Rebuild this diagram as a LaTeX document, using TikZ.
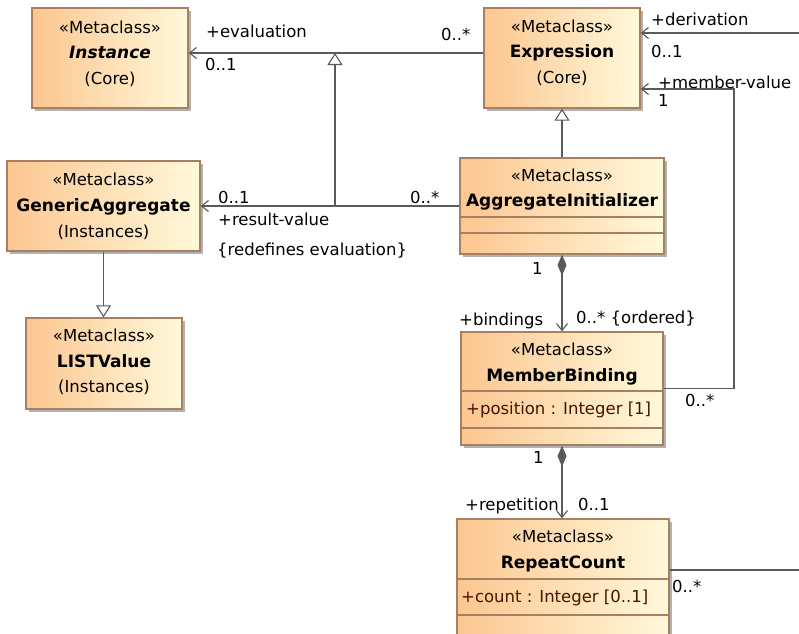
\documentclass[tikz,border=0pt]{standalone}
\usepackage{fontspec}
\setmainfont{DejaVu Sans}
\usetikzlibrary{arrows.meta,shadows}
\definecolor{clsL}{RGB}{252,198,144}
\definecolor{clsR}{RGB}{255,249,218}
\definecolor{clsB}{RGB}{166,128,96}
\definecolor{lnC}{RGB}{90,90,90}
\definecolor{attrC}{RGB}{70,20,0}
\newcommand\clsname[1]{{\fontsize{17}{20}\selectfont\bfseries #1}}
\begin{document}
\begin{tikzpicture}[x=1pt,y=-1pt,
  cls/.style={draw=clsB, line width=1.3pt, left color=clsL, right color=clsR, inner sep=0pt,
    drop shadow={shadow xshift=3pt, shadow yshift=-3pt, fill=black!30, opacity=1}},
  cmp/.style={draw=clsB, line width=1.3pt},
  txt/.style={inner sep=0pt, anchor=base, font=\fontsize{16.5}{20}\selectfont},
  lbl/.style={inner sep=0pt, anchor=base west, font=\fontsize{16.5}{20}\selectfont},
  lnk/.style={draw=lnC, line width=1.3pt},
  assoc/.style={lnk, -{Straight Barb[length=7pt,width=11pt,line width=1.1pt]}},
  genz/.style={lnk, -{Triangle[open,length=12pt,width=15pt,fill=white,line width=1.1pt]}},
  compo/.style={lnk, {Diamond[length=21pt,width=9pt,fill=lnC]}-{Straight Barb[length=7pt,width=11pt,line width=1.1pt]}}
]
\fill[white] (0,0) rectangle (799,633);
\useasboundingbox (0,0) rectangle (799,633);

% class boxes
\node[cls, minimum width=156pt, minimum height=100pt] (inst) at (110,58) {};
\node[cls, minimum width=156pt, minimum height=100pt] (expr) at (562,58) {};
\node[cls, minimum width=193pt, minimum height=90pt] (gen) at (103.5,206) {};
\node[cls, minimum width=204pt, minimum height=96pt] (agg) at (562,206) {};
\node[cls, minimum width=156pt, minimum height=91pt] (list) at (104,363.5) {};
\node[cls, minimum width=202pt, minimum height=113pt] (mb) at (562,388.5) {};
\node[cls, minimum width=212pt, minimum height=122pt] (rc) at (563,580) {};

% compartments
\draw[cmp] (agg.west |- 0,217) -- (agg.east |- 0,217);
\draw[cmp] (agg.west |- 0,233) -- (agg.east |- 0,233);
\draw[cmp] (mb.west |- 0,391) -- (mb.east |- 0,391);
\draw[cmp] (mb.west |- 0,428) -- (mb.east |- 0,428);
\draw[cmp] (rc.west |- 0,579) -- (rc.east |- 0,579);
\draw[cmp] (rc.west |- 0,615) -- (rc.east |- 0,615);

% class texts
\node[txt] (instS) at (110,33) {«Metaclass»};
\node[txt] (instN) at (110,58) {\clsname{\itshape Instance}};
\node[txt] (instP) at (110,84) {(Core)};

\node[txt] (exprS) at (562,32) {«Metaclass»};
\node[txt] (exprN) at (562,57) {\clsname{Expression}};
\node[txt] (exprP) at (562,83) {(Core)};

\node[txt] (genS) at (103.5,185) {«Metaclass»};
\node[txt] (genN) at (103.5,211) {\clsname{GenericAggregate}};
\node[txt] (genP) at (103.5,237) {(Instances)};

\node[txt] (aggS) at (562,181) {«Metaclass»};
\node[txt] (aggN) at (562,206) {\clsname{AggregateInitializer}};

\node[txt] (listS) at (104,341) {«Metaclass»};
\node[txt] (listN) at (104,367) {\clsname{LISTValue}};
\node[txt] (listP) at (104,392) {(Instances)};

\node[txt] (mbS) at (562,355) {«Metaclass»};
\node[txt] (mbN) at (562,381) {\clsname{MemberBinding}};
\node[lbl, text=attrC] (mbA) at (466,414) {+position : Integer [1]};

\node[txt] (rcS) at (563,542) {«Metaclass»};
\node[txt] (rcN) at (563,568) {\clsname{RepeatCount}};
\node[lbl, text=attrC] (rcA) at (461,602) {+count : Integer [0..1]};

% connectors
\draw[assoc] ([yshift=5pt]expr.west) -- ([yshift=5pt]inst.east);
\coordinate (gTop) at (335,53);
\coordinate (gBot) at (335,206);
\draw[genz] (gBot) -- (gTop);
\draw[assoc] (agg.west) -- (gen.east);
\draw[genz] (agg.north) -- (expr.south);
\draw[genz] (gen.south) -- (gen.south |- list.north);
\draw[compo] (agg.south) -- (mb.north);
\draw[compo] (mb.south) -- (mb.south |- rc.north);
\coordinate (mvx) at (734,250);
\draw[assoc] (mb.east) -| (mvx) |- ([yshift=-31pt]expr.east);
\coordinate (dR) at (802,33);
\draw[assoc] (dR) -- ([yshift=25pt]expr.east);
\coordinate (rR) at (802,570);
\draw[lnk] ([yshift=10pt]rc.east) -- (rR);

% connector labels
\node[lbl] (l1) at (206,37) {+evaluation};
\node[lbl] (l2) at (205,70) {0..1};
\node[lbl] (l3) at (441,40) {0..*};
\node[lbl] (l4) at (651,25) {+derivation};
\node[lbl] (l5) at (651,57) {0..1};
\node[lbl] (l6) at (658,88) {+member-value};
\node[lbl] (l7) at (658,106) {1};
\node[lbl] (l8) at (218,203) {0..1};
\node[lbl] (l9) at (218,225) {+result-value};
\node[lbl] (l10) at (217,255) {\{redefines evaluation\}};
\node[lbl] (l11) at (410,203) {0..*};
\node[lbl] (l12) at (532,274) {1};
\node[lbl] (l13) at (459,325) {+bindings};
\node[lbl] (l14) at (576,323) {0..* \{ordered\}};
\node[lbl] (l15) at (685,406) {0..*};
\node[lbl] (l16) at (533,463) {1};
\node[lbl] (l17) at (465,510) {+repetition};
\node[lbl] (l18) at (578,510) {0..1};
\node[lbl] (l19) at (672,592) {0..*};
\end{tikzpicture}
\end{document}
